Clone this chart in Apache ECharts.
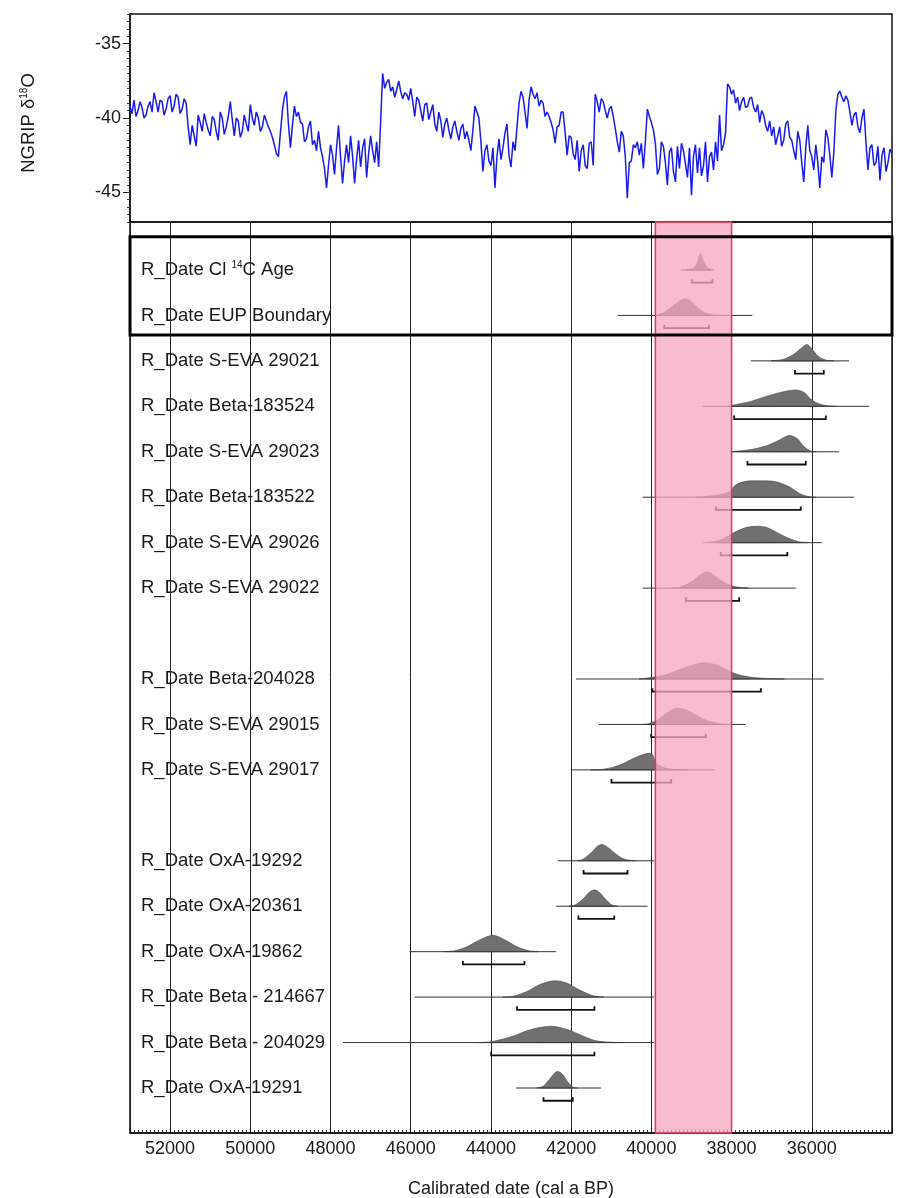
<!DOCTYPE html>
<html>
<head>
<meta charset="utf-8">
<script src="https://cdn.jsdelivr.net/npm/echarts@6/dist/echarts.min.js"></script>
<style>
html, body { margin: 0; padding: 0; background: #fff; }
#chart { width: 898px; height: 1198px; }
</style>
</head>
<body>
<div id="chart"></div>
<script>
// NGRIP d18O record (cal a BP, permil)
var ngripAge = [
  53000,52950,52900,52850,52800,52750,52700,52650,52600,52550,
  52500,52450,52400,52350,52300,52250,52200,52150,52100,52050,
  52000,51950,51900,51850,51800,51750,51700,51650,51600,51550,
  51500,51450,51400,51350,51300,51250,51200,51150,51100,51050,
  51000,50950,50900,50850,50800,50750,50700,50650,50600,50550,
  50500,50450,50400,50350,50300,50250,50200,50150,50100,50050,
  50000,49950,49900,49850,49800,49750,49700,49650,49600,49550,
  49500,49450,49400,49350,49300,49250,49200,49150,49100,49050,
  49000,48950,48900,48850,48800,48750,48700,48650,48600,48550,
  48500,48450,48400,48350,48300,48250,48200,48150,48100,48050,
  48000,47950,47900,47850,47800,47750,47700,47650,47600,47550,
  47500,47450,47400,47350,47300,47250,47200,47150,47100,47050,
  47000,46950,46900,46850,46800,46750,46700,46650,46600,46550,
  46500,46450,46400,46350,46300,46250,46200,46150,46100,46050,
  46000,45950,45900,45850,45800,45750,45700,45650,45600,45550,
  45500,45450,45400,45350,45300,45250,45200,45150,45100,45050,
  45000,44950,44900,44850,44800,44750,44700,44650,44600,44550,
  44500,44450,44400,44350,44300,44250,44200,44150,44100,44050,
  44000,43950,43900,43850,43800,43750,43700,43650,43600,43550,
  43500,43450,43400,43350,43300,43250,43200,43150,43100,43050,
  43000,42950,42900,42850,42800,42750,42700,42650,42600,42550,
  42500,42450,42400,42350,42300,42250,42200,42150,42100,42050,
  42000,41950,41900,41850,41800,41750,41700,41650,41600,41550,
  41500,41450,41400,41350,41300,41250,41200,41150,41100,41050,
  41000,40950,40900,40850,40800,40750,40700,40650,40600,40550,
  40500,40450,40400,40350,40300,40250,40200,40150,40100,40050,
  40000,39950,39900,39850,39800,39750,39700,39650,39600,39550,
  39500,39450,39400,39350,39300,39250,39200,39150,39100,39050,
  39000,38950,38900,38850,38800,38750,38700,38650,38600,38550,
  38500,38450,38400,38350,38300,38250,38200,38150,38100,38050,
  38000,37950,37900,37850,37800,37750,37700,37650,37600,37550,
  37500,37450,37400,37350,37300,37250,37200,37150,37100,37050,
  37000,36950,36900,36850,36800,36750,36700,36650,36600,36550,
  36500,36450,36400,36350,36300,36250,36200,36150,36100,36050,
  36000,35950,35900,35850,35800,35750,35700,35650,35600,35550,
  35500,35450,35400,35350,35300,35250,35200,35150,35100,35050,
  35000,34950,34900,34850,34800,34750,34700,34650,34600,34550,
  34500,34450,34400,34350,34300,34250,34200,34150,34100,34050,
  34000
];
var ngripD18O = [
  -39.2,-39.7,-38.8,-39.9,-39.5,-38.9,-39.3,-40.0,-39.8,-39.2,
  -38.9,-39.6,-38.3,-38.9,-39.6,-38.8,-38.9,-39.8,-39.4,-38.7,
  -38.5,-39.6,-39.2,-38.4,-38.6,-39.7,-39.4,-38.7,-39.0,-40.6,
  -41.8,-40.5,-41.2,-41.9,-39.8,-40.3,-40.9,-39.7,-40.3,-40.8,
  -41.2,-39.9,-40.1,-40.9,-41.5,-39.6,-40.0,-41.1,-40.6,-39.9,
  -38.9,-40.1,-41.2,-40.0,-40.2,-41.3,-40.9,-39.8,-40.4,-40.9,
  -39.1,-40.0,-40.5,-39.6,-40.0,-40.9,-40.6,-39.8,-40.2,-40.6,
  -40.9,-41.3,-41.8,-42.4,-42.6,-41.0,-39.5,-38.6,-38.2,-40.4,
  -42.0,-40.5,-39.2,-39.9,-39.6,-40.3,-40.4,-41.6,-41.4,-40.6,
  -40.2,-41.8,-41.5,-42.2,-40.9,-42.0,-42.6,-43.4,-44.7,-43.2,
  -41.8,-42.5,-43.8,-42.0,-40.5,-42.6,-44.4,-42.9,-41.8,-43.0,
  -41.2,-42.6,-44.4,-42.8,-41.5,-43.3,-42.0,-41.4,-44.0,-42.4,
  -41.2,-42.2,-43.0,-41.6,-43.3,-40.2,-37.0,-38.0,-37.6,-37.4,
  -38.2,-37.9,-38.6,-38.1,-37.5,-38.2,-38.7,-38.3,-38.4,-38.8,
  -38.0,-38.9,-39.9,-38.6,-38.8,-39.5,-40.2,-39.1,-39.0,-40.1,
  -39.6,-39.1,-40.4,-40.9,-39.6,-40.2,-41.3,-40.4,-40.0,-40.8,
  -41.4,-40.6,-40.2,-40.9,-41.5,-40.7,-40.4,-41.4,-40.9,-41.5,
  -42.2,-40.8,-39.2,-39.6,-40.0,-41.6,-43.6,-42.2,-41.8,-42.9,
  -43.2,-42.0,-44.7,-42.6,-41.4,-42.8,-42.0,-41.0,-40.4,-42.5,
  -43.3,-41.6,-42.2,-40.6,-39.0,-38.2,-38.6,-39.6,-40.7,-38.8,
  -37.9,-38.4,-38.7,-38.3,-39.2,-38.8,-39.0,-39.9,-39.6,-39.9,
  -40.3,-40.8,-41.7,-40.6,-40.5,-39.6,-39.6,-41.0,-42.5,-41.2,
  -41.3,-42.4,-42.8,-41.5,-43.6,-42.2,-41.8,-43.2,-43.4,-41.7,
  -41.6,-43.2,-38.4,-38.9,-39.6,-38.7,-38.9,-39.5,-40.0,-39.4,
  -39.2,-39.9,-40.7,-41.6,-42.3,-40.9,-41.2,-42.6,-45.4,-43.0,
  -42.9,-41.8,-42.0,-41.6,-42.5,-41.7,-43.4,-41.6,-39.4,-39.9,
  -40.3,-40.8,-41.7,-43.8,-43.4,-41.6,-41.9,-43.0,-44.5,-42.3,
  -42.0,-43.6,-44.3,-41.9,-43.4,-41.7,-42.2,-43.1,-44.0,-42.0,
  -45.2,-42.6,-41.8,-43.7,-42.0,-43.9,-43.2,-41.6,-44.3,-42.6,
  -42.3,-43.5,-41.6,-42.9,-39.8,-42.2,-41.8,-41.0,-37.7,-37.9,
  -38.4,-38.1,-39.0,-38.6,-39.5,-38.9,-38.6,-39.3,-39.2,-38.7,
  -38.6,-39.3,-39.6,-39.1,-40.3,-39.5,-39.8,-40.5,-40.9,-40.2,
  -41.2,-40.6,-41.8,-41.2,-40.6,-41.9,-41.5,-40.4,-40.2,-41.3,
  -41.5,-42.2,-42.8,-40.9,-41.5,-43.0,-44.3,-42.0,-40.5,-42.2,
  -42.6,-43.5,-41.8,-43.0,-44.7,-42.6,-43.0,-40.8,-41.3,-42.5,
  -44.0,-42.3,-39.5,-38.4,-38.2,-38.6,-38.9,-38.5,-38.8,-39.6,
  -40.5,-39.8,-39.6,-40.6,-41.0,-40.0,-39.4,-41.6,-43.5,-42.0,
  -41.8,-43.2,-43.0,-41.9,-44.2,-42.5,-42.0,-43.6,-43.0,-42.1,
  -42.4
];

// radiocarbon dates (rows counted from the top, 8 and 12 are empty)
var dateNames = [
  'R_Date Cl {sup|14}C Age', 'R_Date EUP Boundary', 'R_Date S-EVA 29021',
  'R_Date Beta-183524', 'R_Date S-EVA 29023', 'R_Date Beta-183522',
  'R_Date S-EVA 29026', 'R_Date S-EVA 29022', 'R_Date Beta-204028',
  'R_Date S-EVA 29015', 'R_Date S-EVA 29017', 'R_Date OxA-19292',
  'R_Date OxA-20361', 'R_Date OxA-19862', 'R_Date Beta - 214667',
  'R_Date Beta - 204029', 'R_Date OxA-19291'
];
var dateRows = [0, 1, 2, 3, 4, 5, 6, 7, 9, 10, 11, 13, 14, 15, 16, 17, 18];

// extent of the thin base line of each distribution
var dateSpan = [
  [39260, 38520], [40840, 37480], [37520, 35070], [38725, 34575],
  [38020, 35320], [40220, 34950], [38390, 35750], [40220, 36400],
  [41880, 35700], [41310, 37650], [41970, 38410], [42335, 39930],
  [42375, 40095], [46030, 42375], [45900, 39930], [47690, 39930],
  [43375, 41255]
];
// 95.4% range brackets
var dateRange = [
  [38990, 38480], [39680, 38560], [36420, 35700], [37935, 35650],
  [37605, 36150], [38390, 36275], [38270, 36610], [39140, 37810],
  [39975, 37270], [40005, 38645], [40995, 39505], [41690, 40595],
  [41820, 40925], [44700, 43165], [43350, 41420], [43995, 41420],
  [42690, 41960]
];
// probability densities [age, relative height]
var dateDensity = [
  [[39150,0],[38950,0.1],[38850,0.5],[38780,1],[38700,0.55],[38600,0.12],[38450,0]],
  [[39900,0],[39700,0.15],[39450,0.6],[39250,0.95],[39100,1],[38900,0.6],[38700,0.2],[38450,0.03],[38200,0]],
  [[37000,0],[36700,0.1],[36450,0.4],[36250,0.8],[36120,1],[36000,0.75],[35850,0.3],[35650,0.05],[35450,0]],
  [[38050,0],[37950,0.08],[37520,0.3],[37150,0.6],[36730,0.88],[36400,1],[36190,0.85],[36030,0.45],[35820,0.15],[35570,0.02],[35400,0]],
  [[38050,0],[37980,0.02],[37560,0.12],[37150,0.35],[36820,0.7],[36570,1],[36360,0.8],[36190,0.3],[36030,0.05],[35900,0]],
  [[38900,0],[38650,0.05],[38300,0.15],[38050,0.35],[37900,0.75],[37650,0.97],[37300,1],[36900,0.95],[36570,0.65],[36320,0.25],[36070,0.03],[35900,0]],
  [[38700,0],[38400,0.08],[38150,0.3],[37950,0.6],[37650,0.92],[37400,1],[37150,0.95],[36815,0.55],[36560,0.25],[36310,0.05],[36100,0]],
  [[39500,0],[39300,0.05],[38980,0.4],[38810,0.75],[38600,1],[38400,0.7],[38150,0.3],[37900,0.08],[37600,0]],
  [[40300,0],[40200,0.03],[39740,0.2],[39265,0.6],[38880,0.9],[38650,1],[38310,0.8],[37935,0.35],[37550,0.12],[37080,0.03],[36700,0]],
  [[40200,0],[40070,0.05],[39830,0.3],[39550,0.8],[39310,1],[38980,0.7],[38690,0.3],[38310,0.05],[38100,0]],
  [[41500,0],[41260,0.02],[40970,0.15],[40690,0.4],[40400,0.75],[40120,1],[39975,0.95],[39880,0.4],[39640,0.1],[39360,0.02],[39100,0]],
  [[41850,0],[41700,0.1],[41500,0.5],[41350,0.88],[41230,1],[41100,0.85],[40900,0.45],[40700,0.12],[40500,0.02],[40400,0]],
  [[42050,0],[41900,0.08],[41700,0.45],[41550,0.85],[41420,1],[41300,0.85],[41150,0.45],[41000,0.1],[40850,0]],
  [[45150,0],[44900,0.06],[44600,0.3],[44300,0.7],[43950,1],[43650,0.72],[43350,0.3],[43050,0.05],[42850,0]],
  [[43700,0],[43450,0.05],[43100,0.35],[42750,0.8],[42400,1],[42100,0.85],[41800,0.45],[41450,0.08],[41200,0]],
  [[44300,0],[44000,0.05],[43500,0.35],[43000,0.8],[42500,1],[42100,0.8],[41750,0.45],[41400,0.12],[41000,0.02],[40700,0]],
  [[42850,0],[42700,0.1],[42520,0.6],[42400,0.95],[42310,1],[42200,0.8],[42080,0.35],[41950,0.05],[41850,0]]
];

// pink band (boundary interval) and the boxed group of rows
var boundaryBand = [39900, 38000];
var boxedRows = [0, 1];

var FONT = 'Liberation Sans, Arial, sans-serif';
var peakRows = 0.36;    // height of a density peak, in rows
var bracketRows = 0.28; // bracket offset below the base line

var ngripData = ngripAge.map(function (a, i) { return [a, ngripD18O[i]]; });

function renderDate(params, api) {
  var i = api.value(0);
  var row = dateRows[i];
  var pts = dateDensity[i].map(function (p) {
    return api.coord([p[0], row - p[1] * peakRows]);
  });
  var a = api.coord([dateSpan[i][0], row]);
  var b = api.coord([dateSpan[i][1], row]);
  var c = api.coord([dateRange[i][0], row + bracketRows]);
  var d = api.coord([dateRange[i][1], row + bracketRows]);
  var left = params.coordSys.x;
  return {
    type: 'group',
    children: [
      { type: 'polygon', shape: { points: pts, smooth: 0.3 },
        style: { fill: '#707070', stroke: '#4a4a4a', lineWidth: 0.6 } },
      { type: 'line', shape: { x1: a[0], y1: a[1], x2: b[0], y2: b[1] },
        style: { stroke: '#333', lineWidth: 1 } },
      { type: 'polyline',
        shape: { points: [[c[0], c[1] - 3.5], [c[0], c[1]], [d[0], d[1]], [d[0], d[1] - 3.5]] },
        style: { stroke: '#111', lineWidth: 1.8, fill: null } },
      { type: 'text',
        style: { text: dateNames[i], x: left + 11, y: a[1], fill: '#1a1a1a',
          fontSize: 18.5, fontFamily: FONT, align: 'left', verticalAlign: 'middle',
          rich: { sup: { fontSize: 10, fontFamily: FONT, verticalAlign: 'top', fill: '#1a1a1a' } } } }
    ]
  };
}

function renderBand(params, api) {
  var cs = params.coordSys;
  var p0 = api.coord([boundaryBand[0], 0]);
  var p1 = api.coord([boundaryBand[1], 0]);
  return {
    type: 'rect',
    shape: { x: p0[0], y: cs.y, width: p1[0] - p0[0], height: cs.height },
    style: { fill: 'rgba(247,165,193,0.76)', stroke: '#e8335a', lineWidth: 1.5 }
  };
}

function renderBox(params, api) {
  var cs = params.coordSys;
  var top = api.coord([53000, boxedRows[0] - 0.73]);
  var bot = api.coord([53000, boxedRows[1] + 0.43]);
  return {
    type: 'rect',
    shape: { x: cs.x, y: top[1], width: cs.width, height: bot[1] - top[1] },
    style: { fill: null, stroke: '#000', lineWidth: 3 }
  };
}

var chart = echarts.init(document.getElementById('chart'));
chart.setOption({
  animation: false,
  backgroundColor: '#fff',
  textStyle: { fontFamily: FONT },
  grid: [
    { left: 130, right: 6, top: 14, height: 208, show: true, borderColor: '#111', borderWidth: 1.5,
      containLabel: false, outerBoundsMode: 'none' },
    { left: 130, right: 6, top: 222, bottom: 65, show: true, borderColor: '#111', borderWidth: 1.5,
      containLabel: false, outerBoundsMode: 'none' }
  ],
  xAxis: [
    { gridIndex: 0, type: 'value', min: 34000, max: 53000, inverse: true, show: false },
    {
      gridIndex: 1, type: 'value', min: 34000, max: 53000, interval: 2000, inverse: true,
      name: 'Calibrated date (cal a BP)', nameLocation: 'middle', nameGap: 47,
      nameTextStyle: { fontSize: 18, color: '#1a1a1a', fontFamily: FONT },
      axisLine: { show: true, onZero: false, lineStyle: { color: '#111', width: 1.5 } },
      axisTick: { show: true, inside: true, length: 5, lineStyle: { color: '#111' } },
      minorTick: { show: true, splitNumber: 20, length: 3, lineStyle: { color: '#333' } },
      axisLabel: { showMinLabel: false, margin: 7, fontSize: 18, color: '#1a1a1a', fontFamily: FONT,
        formatter: function (v) { return String(v); } },
      splitLine: { show: true, lineStyle: { color: '#222', width: 1 } }
    }
  ],
  yAxis: [
    {
      gridIndex: 0, type: 'value', min: -47, max: -33, position: 'left',
      name: 'NGRIP δ{sup|18}O', nameLocation: 'middle', nameGap: 92,
      nameTextStyle: { fontSize: 18.5, color: '#1a1a1a', fontFamily: FONT, padding: [0, 10, 0, 0],
        rich: { sup: { fontSize: 10, verticalAlign: 'top', fontFamily: FONT, color: '#1a1a1a' } } },
      axisLine: { show: true, onZero: false, lineStyle: { color: '#111', width: 1.5 } },
      axisTick: { show: true, length: 7, customValues: [-45, -40, -35], lineStyle: { color: '#111' } },
      axisLabel: { customValues: [-45, -40, -35], margin: 9, fontSize: 18, color: '#1a1a1a', fontFamily: FONT },
      splitLine: { show: false }
    },
    {
      gridIndex: 0, type: 'value', min: -47, max: -33, interval: 0.5, position: 'left',
      axisLine: { show: false, onZero: false },
      axisTick: { show: true, length: 3, lineStyle: { color: '#333' } },
      axisLabel: { show: false },
      splitLine: { show: false }
    },
    { gridIndex: 1, type: 'value', min: -1.056, max: 18.99, inverse: true, show: false, splitLine: { show: false } }
  ],
  series: [
    {
      type: 'line', xAxisIndex: 0, yAxisIndex: 0, data: ngripData,
      symbol: 'none', lineStyle: { color: '#1a1aee', width: 1.5 }, z: 3
    },
    {
      type: 'custom', xAxisIndex: 1, yAxisIndex: 2, renderItem: renderDate,
      data: dateRows.map(function (r, i) { return [i]; }), z: 2
    },
    {
      type: 'custom', xAxisIndex: 1, yAxisIndex: 2, renderItem: renderBand,
      data: [[0]], z: 4
    },
    {
      type: 'custom', xAxisIndex: 1, yAxisIndex: 2, renderItem: renderBox,
      data: [[0]], z: 5
    }
  ]
});
window.addEventListener('resize', function () { chart.resize(); });
</script>
</body>
</html>
